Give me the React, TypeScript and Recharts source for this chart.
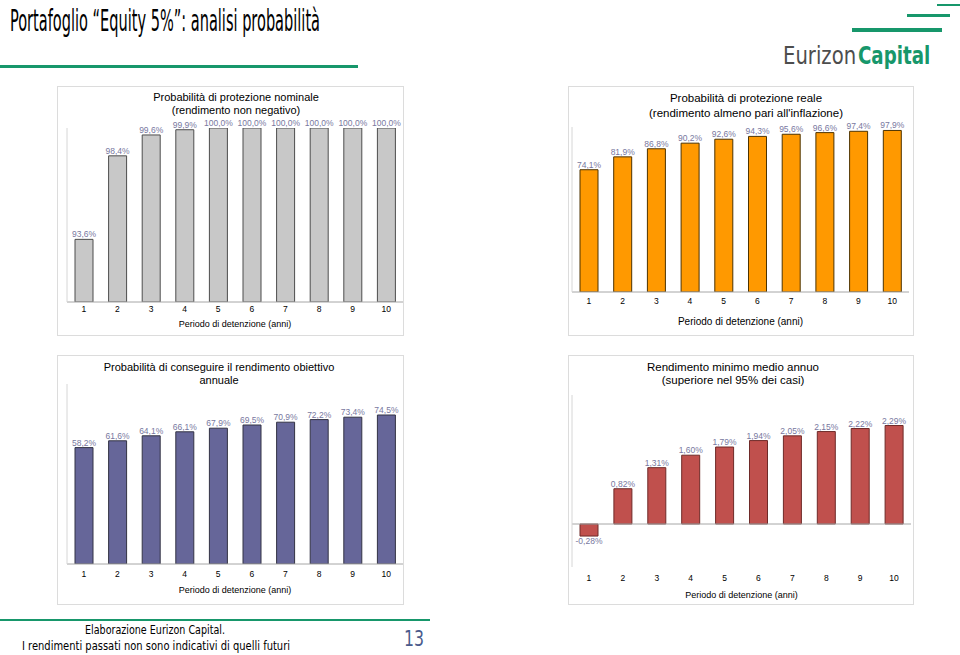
import React from "react";
import { BarChart, Bar, XAxis, YAxis, LabelList, ReferenceLine } from "recharts";

const years = ["1", "2", "3", "4", "5", "6", "7", "8", "9", "10"];
const nominalProb = [93.6, 98.4, 99.6, 99.9, 100, 100, 100, 100, 100, 100];
const realProb = [74.1, 81.9, 86.8, 90.2, 92.6, 94.3, 95.6, 96.6, 97.4, 97.9];
const targetProb = [58.2, 61.6, 64.1, 66.1, 67.9, 69.5, 70.9, 72.2, 73.4, 74.5];
const minReturn = [-0.28, 0.82, 1.31, 1.6, 1.79, 1.94, 2.05, 2.15, 2.22, 2.29];

const nominalTicks = [90, 91, 92, 93, 94, 95, 96, 97, 98, 99, 100];
const realTicks = [0, 10, 20, 30, 40, 50, 60, 70, 80, 90, 100];
const targetTicks = [0, 10, 20, 30, 40, 50, 60, 70, 80, 90];
const minTicks = [-1, 0, 1, 2, 3];

const AXIS_TITLE = "Periodo di detenzione (anni)";
const ARIAL = "'Liberation Sans', Arial, sans-serif";
const TAHOMA = "'DejaVu Sans Condensed', 'DejaVu Sans', sans-serif";
const GREEN = "#17976b";
const LABEL_COLOR = "#7878a0";
const AXIS_COLOR = "#a6a6a6";

const toRows = (vals: number[]) => years.map((y, i) => ({ year: y, v: vals[i] }));
const pct1 = (v: any) => Number(v).toFixed(1).replace(".", ",") + "%";
const pct2 = (v: any) => Number(v).toFixed(2).replace(".", ",") + "%";

type PanelProps = {
  left: number;
  top: number;
  width: number;
  height: number;
  title: string[];
  titleX: number; // centre, relative to panel
  titleTop: number;
  titleLine: number;
  titleSize: number;
  data: number[];
  domain: [number, number];
  ticks: number[];
  fill: string;
  stroke: string;
  margin: { top: number; right: number; left: number };
  yWidth: number;
  xHeight: number;
  tickGap: number;
  labelOffset: number;
  axisTitleSize: number;
  fmt: (v: any) => string;
  zeroLine?: boolean;
};

function Panel(p: PanelProps) {
  return (
    <div
      style={{
        position: "absolute",
        left: p.left,
        top: p.top,
        width: p.width,
        height: p.height,
        boxSizing: "border-box",
        border: "1px solid #dcdcdc",
      }}
    >
      <div
        style={{
          position: "absolute",
          left: p.titleX - 200,
          top: p.titleTop,
          width: 400,
          textAlign: "center",
          fontFamily: ARIAL,
          fontSize: p.titleSize,
          lineHeight: p.titleLine + "px",
          color: "#000",
        }}
      >
        {p.title.map((t) => (
          <div key={t}>{t}</div>
        ))}
      </div>
      <div style={{ position: "absolute", left: -1, top: -1 }}>
        <BarChart
          width={p.width}
          height={p.height}
          data={toRows(p.data)}
          margin={{ top: p.margin.top, right: p.margin.right, left: p.margin.left, bottom: 0 }}
        >
          <XAxis
            dataKey="year"
            interval={0}
            height={p.xHeight}
            axisLine={p.zeroLine ? false : { stroke: AXIS_COLOR }}
            tickLine={false}
            tickSize={p.tickGap}
            tickMargin={0}
            tick={{ fontSize: 8.5, fill: "#000", fontFamily: ARIAL }}
            label={{
              value: AXIS_TITLE,
              position: "insideBottom",
              offset: p.labelOffset,
              fontSize: p.axisTitleSize,
              fill: "#000",
              fontFamily: ARIAL,
            }}
          />
          <YAxis
            width={p.yWidth}
            type="number"
            domain={p.domain}
            ticks={p.ticks}
            allowDataOverflow
            tick={false}
            tickSize={3}
            tickLine={{ stroke: AXIS_COLOR }}
            axisLine={{ stroke: "#d6d6d6" }}
          />
          {p.zeroLine && <ReferenceLine y={0} stroke={AXIS_COLOR} />}
          <Bar dataKey="v" fill={p.fill} stroke={p.stroke} strokeWidth={1} barSize={18} isAnimationActive={false}>
            <LabelList
              dataKey="v"
              position="top"
              offset={2}
              formatter={p.fmt}
              fill={LABEL_COLOR}
              fontSize={8.5}
              fontFamily={ARIAL}
            />
          </Bar>
        </BarChart>
      </div>
    </div>
  );
}

function Frame() {
  return (
    <svg width={960} height={655} style={{ position: "absolute", left: 0, top: 0 }}>
      <text x={10} y={31} fontFamily={TAHOMA} fontSize={31} fill="#000" textLength={310} lengthAdjust="spacingAndGlyphs">
        Portafoglio “Equity 5%”: analisi probabilità
      </text>
      <rect x={0} y={65} width={358} height={3} fill={GREEN} />
      <rect x={937} y={4} width={23} height={2} fill={GREEN} />
      <rect x={907} y={14} width={43} height={3} fill={GREEN} />
      <rect x={852} y={28} width={90} height={4} fill={GREEN} />
      {/* logo words squeezed by a transform so their boxes stay true */}
      <text transform="translate(783 64) scale(0.87 1)" fontFamily={TAHOMA} fontSize={25} fill="#4d4d4d" textLength={84} lengthAdjust="spacingAndGlyphs">
        Eurizon
      </text>
      <text transform="translate(858 64) scale(0.87 1)" fontFamily={TAHOMA} fontSize={25} fontWeight="bold" fill={GREEN} textLength={83} lengthAdjust="spacingAndGlyphs">
        Capital
      </text>
      <rect x={0} y={619} width={430} height={2} fill={GREEN} />
      <text x={155} y={634} textAnchor="middle" fontFamily={TAHOMA} fontSize={13} fill="#000" textLength={140} lengthAdjust="spacingAndGlyphs">
        Elaborazione Eurizon Capital.
      </text>
      <text x={156} y={650} textAnchor="middle" fontFamily={TAHOMA} fontSize={13} fill="#000" textLength={268} lengthAdjust="spacingAndGlyphs">
        I rendimenti passati non sono indicativi di quelli futuri
      </text>
      <text x={414} y={646} textAnchor="middle" fontFamily={TAHOMA} fontSize={21} fill="#4a5a8c" textLength={20} lengthAdjust="spacingAndGlyphs">
        13
      </text>
    </svg>
  );
}

export default function App() {
  return (
    <div style={{ position: "absolute", left: 0, top: 0, width: 960, height: 655, background: "#fff", overflow: "hidden" }}>
      <Frame />
      <Panel
        left={57}
        top={86}
        width={347}
        height={250}
        title={["Probabilità di protezione nominale", "(rendimento non negativo)"]}
        titleX={178}
        titleTop={4}
        titleLine={12.7}
        titleSize={11}
        data={nominalProb}
        domain={[90, 100]}
        ticks={nominalTicks}
        fill="#c8c8c8"
        stroke="#4d4d4d"
        margin={{ top: 42, right: 1, left: 4 }}
        yWidth={6}
        xHeight={34}
        tickGap={4}
        labelOffset={9}
        axisTitleSize={9}
        fmt={pct1}
      />
      <Panel
        left={568}
        top={86}
        width={346}
        height={250}
        title={["Probabilità di protezione reale", "(rendimento almeno pari all'inflazione)"]}
        titleX={177}
        titleTop={4}
        titleLine={15}
        titleSize={11.5}
        data={realProb}
        domain={[0, 100]}
        ticks={realTicks}
        fill="#ff9900"
        stroke="#4d3300"
        margin={{ top: 41, right: 5, left: 0 }}
        yWidth={4}
        xHeight={44}
        tickGap={6}
        labelOffset={11}
        axisTitleSize={10}
        fmt={pct1}
      />
      <Panel
        left={57}
        top={355}
        width={347}
        height={250}
        title={["Probabilità di conseguire il rendimento obiettivo", "annuale"]}
        titleX={161}
        titleTop={5}
        titleLine={12.7}
        titleSize={11}
        data={targetProb}
        domain={[0, 90]}
        ticks={targetTicks}
        fill="#666699"
        stroke="#333344"
        margin={{ top: 29, right: 1, left: 4 }}
        yWidth={6}
        xHeight={41}
        tickGap={7}
        labelOffset={12}
        axisTitleSize={9}
        fmt={pct1}
      />
      <Panel
        left={568}
        top={355}
        width={346}
        height={250}
        title={["Rendimento minimo medio annuo", "(superiore nel 95% dei casi)"]}
        titleX={164}
        titleTop={5}
        titleLine={13.3}
        titleSize={11.5}
        data={minReturn}
        domain={[-1, 3]}
        ticks={minTicks}
        fill="#c0504d"
        stroke="#6e2a28"
        margin={{ top: 40, right: 3, left: 0 }}
        yWidth={4}
        xHeight={38}
        tickGap={8}
        labelOffset={7}
        axisTitleSize={9}
        fmt={pct2}
        zeroLine
      />
    </div>
  );
}
